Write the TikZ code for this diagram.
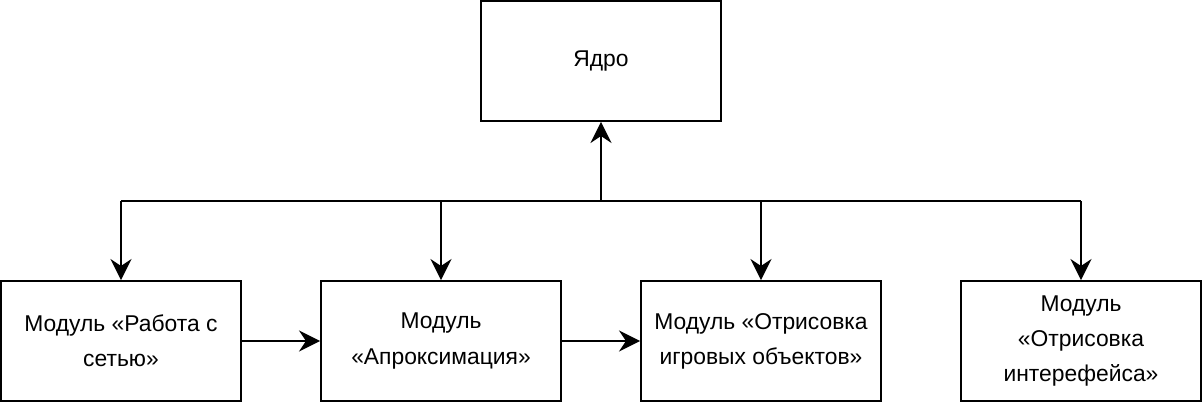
\documentclass[tikz,border=0pt]{standalone}
\usepackage{fontspec}
\setmainfont{Liberation Sans}
\usetikzlibrary{arrows.meta,positioning}
\begin{document}
\begin{tikzpicture}[
    block/.style={rectangle, draw, line width=1.1pt, minimum width=4.8cm, minimum height=2.4cm, align=center, font=\fontsize{13}{20}\selectfont},
    link/.style={-{Stealth[length=12pt,width=12pt,inset=4pt]}, line width=1.1pt}
]
        \useasboundingbox (0,0) rectangle (24.04,8.04);
        \node[block] (core) at (12.02,6.82) {Ядро};
        \node[block] (net) at (2.42,1.22) {Модуль «Работа с\\сетью»};
        \node[block] (approx) at (8.82,1.22) {Модуль\\«Апроксимация»};
        \node[block] (objects) at (15.22,1.22) {Модуль «Отрисовка\\игровых объектов»};
        \node[block] (gui) at (21.62,1.22) {Модуль\\«Отрисовка\\интерефейса»};
        \coordinate (bus) at (12.02,4.02);
        \draw[link] (bus) -- (core);
        \draw[line width=1.1pt] (net |- bus) -- (gui |- bus);
        \foreach \m in {net,approx,objects,gui}
            \draw[link] (\m |- bus) -- (\m);
        \draw[link] (net) -- (approx);
        \draw[link] (approx) -- (objects);
\end{tikzpicture}
\end{document}
